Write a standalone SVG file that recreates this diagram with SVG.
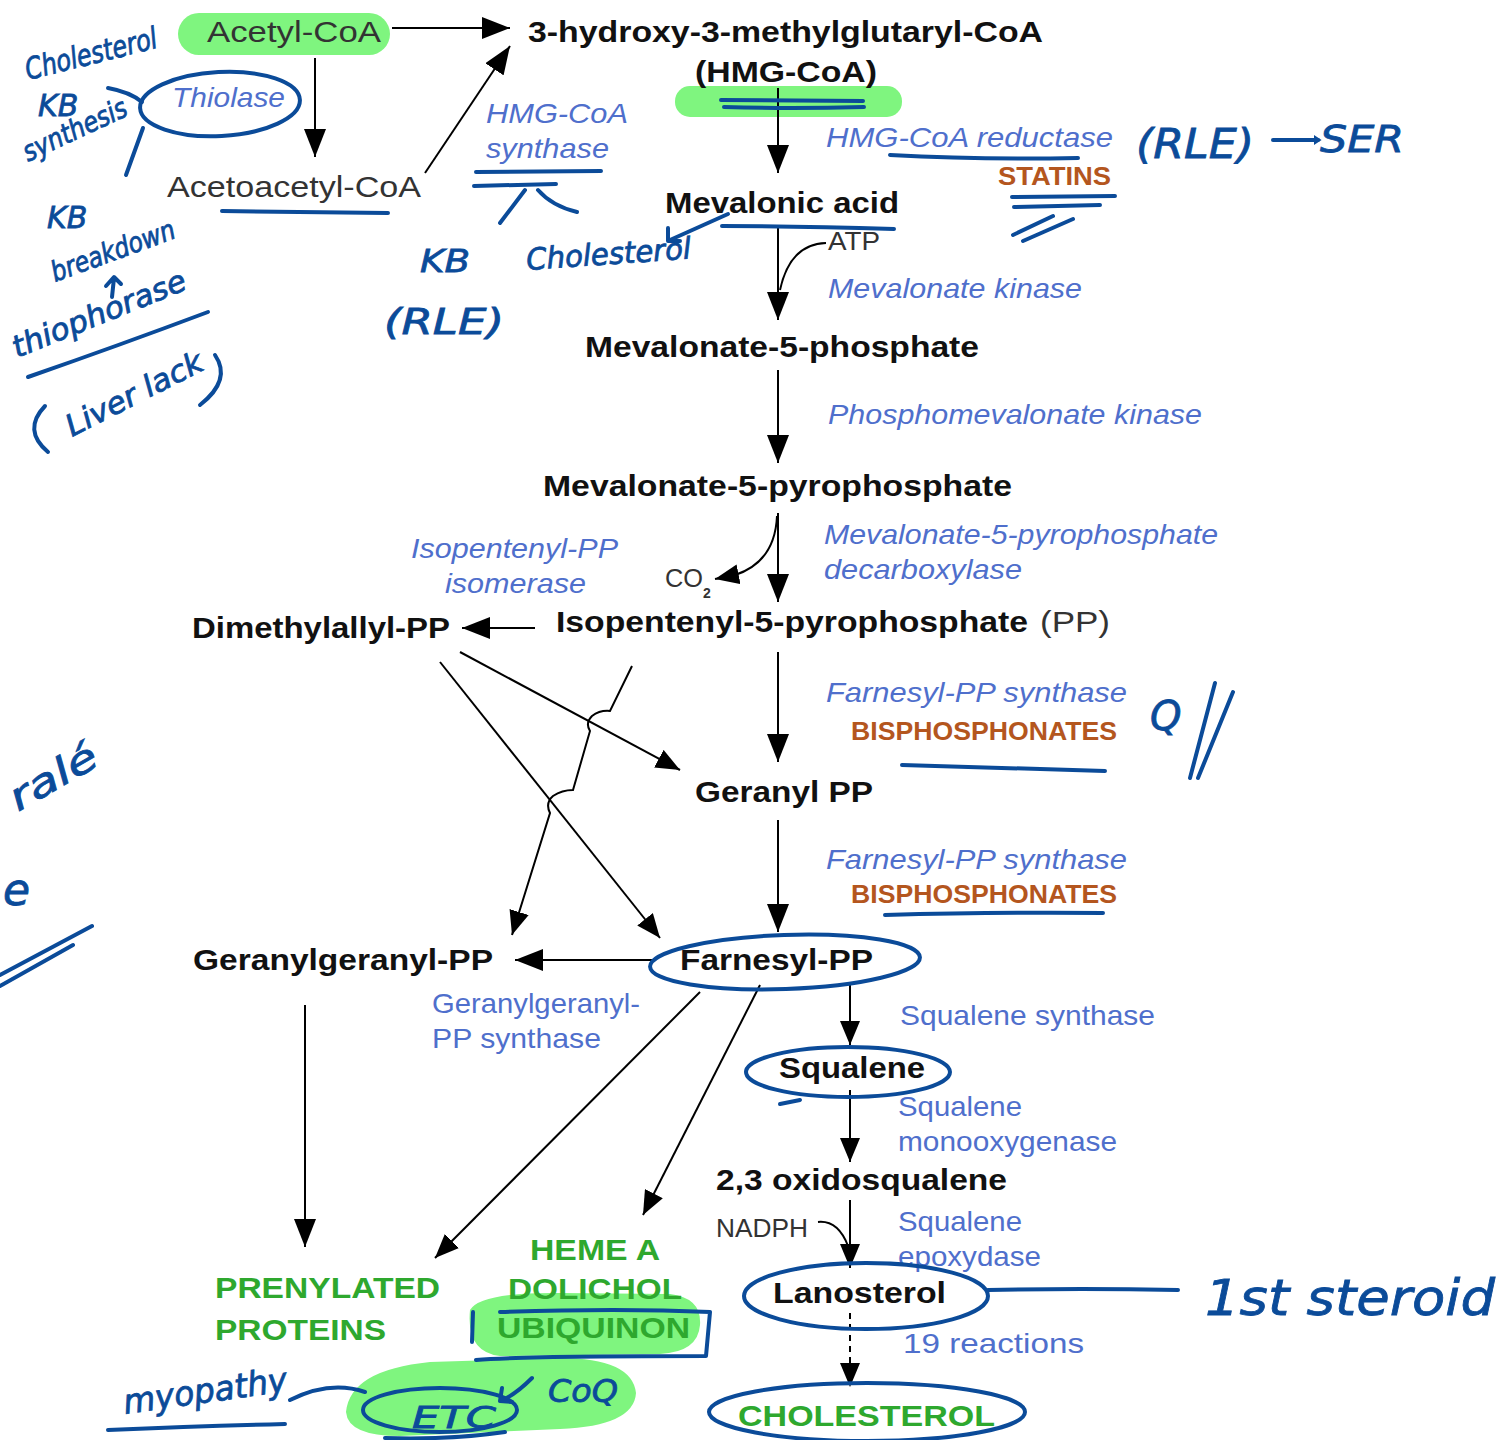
<svg xmlns="http://www.w3.org/2000/svg" width="1511" height="1440" viewBox="0 0 1511 1440">
<defs>
<marker id="ah" markerUnits="userSpaceOnUse" markerWidth="30" markerHeight="22" refX="28" refY="11" orient="auto">
<path d="M0,0 L28,11 L0,22 z" fill="#000"/>
</marker>
<marker id="ahs" markerUnits="userSpaceOnUse" markerWidth="26" markerHeight="20" refX="24" refY="10" orient="auto">
<path d="M0,0 L24,10 L0,20 z" fill="#000"/>
</marker>
<marker id="hah" markerUnits="userSpaceOnUse" markerWidth="20" markerHeight="20" refX="4" refY="10" orient="auto">
<path d="M-8,2 L4,10 L-8,18" fill="none" stroke="#0b4b99" stroke-width="4" stroke-linecap="round"/>
</marker>
<style>
text{font-family:"Liberation Sans",Arial,sans-serif}
.b{font-weight:bold;font-size:30px;fill:#111}
.r{font-size:30px;fill:#333}
.s{font-size:25px;fill:#333}
.bi{font-style:italic;font-size:28px;fill:#4f6fcc}
.bl{font-size:28px;fill:#4f6fcc}
.or{font-weight:bold;font-size:26px;fill:#b4561e}
.gr{font-weight:bold;font-size:30px;fill:#2ea82e}
.hw{font-family:"DejaVu Sans",sans-serif;font-style:italic;fill:#0b4b99;stroke:#0b4b99;stroke-width:0.8}
.hl{fill:#7ff57f}
.ln{stroke:#000;stroke-width:2;fill:none}
.pen{stroke:#0b4b99;stroke-width:4;fill:none;stroke-linecap:round;stroke-linejoin:round}
</style>
</defs>
<rect width="1511" height="1440" fill="#fff"/>

<g id="highlights">
<rect class="hl" x="178" y="13" width="212" height="42" rx="21"/>
<rect class="hl" x="675" y="86" width="227" height="31" rx="15"/>
<path class="hl" d="M470,1310 Q480,1292 560,1293 L670,1294 Q702,1298 700,1325 Q698,1352 660,1354 L500,1356 Q466,1352 470,1310 z"/>
<path class="hl" d="M346,1412 Q350,1370 430,1362 L560,1358 Q632,1358 636,1393 Q634,1426 560,1429 L400,1436 Q348,1436 346,1412 z"/>
</g>

<g id="connectors">
<line class="ln" x1="392" y1="28" x2="510" y2="28" marker-end="url(#ah)"/>
<line class="ln" x1="315" y1="58" x2="315" y2="157" marker-end="url(#ah)"/>
<line class="ln" x1="425" y1="173" x2="510" y2="46" marker-end="url(#ah)"/>
<line class="ln" x1="778" y1="88" x2="778" y2="173" marker-end="url(#ah)"/>
<line class="ln" x1="778" y1="226" x2="778" y2="320" marker-end="url(#ah)"/>
<path class="ln" d="M826,243 Q790,244 780,290"/>
<line class="ln" x1="778" y1="370" x2="778" y2="463" marker-end="url(#ah)"/>
<line class="ln" x1="778" y1="513" x2="778" y2="602" marker-end="url(#ah)"/>
<path class="ln" d="M777,516 Q775,562 735,575 L715,579" marker-end="url(#ahs)"/>
<line class="ln" x1="535" y1="628" x2="462" y2="628" marker-end="url(#ah)"/>
<line class="ln" x1="778" y1="652" x2="778" y2="762" marker-end="url(#ah)"/>
<line class="ln" x1="778" y1="820" x2="778" y2="932" marker-end="url(#ah)"/>
<line class="ln" x1="460" y1="652" x2="680" y2="770" marker-end="url(#ahs)"/>
<line class="ln" x1="440" y1="662" x2="660" y2="938" marker-end="url(#ahs)"/>
<path class="ln" d="M632,666 L610,711 Q600,710 592,716 Q585,723 590,731 L573,790 Q562,790 553,796 Q545,803 550,813 L512,935" marker-end="url(#ahs)"/>
<line class="ln" x1="652" y1="960" x2="515" y2="960" marker-end="url(#ah)"/>
<line class="ln" x1="305" y1="1005" x2="305" y2="1247" marker-end="url(#ah)"/>
<line class="ln" x1="700" y1="992" x2="435" y2="1258" marker-end="url(#ahs)"/>
<line class="ln" x1="760" y1="985" x2="643" y2="1215" marker-end="url(#ahs)"/>
<line class="ln" x1="850" y1="985" x2="850" y2="1045" marker-end="url(#ahs)"/>
<line class="ln" x1="850" y1="1090" x2="850" y2="1162" marker-end="url(#ahs)"/>
<line class="ln" x1="850" y1="1200" x2="850" y2="1268" marker-end="url(#ahs)"/>
<path class="ln" d="M818,1222 Q838,1220 848,1246"/>
<line class="ln" x1="850" y1="1313" x2="850" y2="1387" stroke-dasharray="6,5" marker-end="url(#ahs)"/>
</g>

<g id="n-acetylcoa"><text class="r" x="207" y="42" textLength="174" lengthAdjust="spacingAndGlyphs">Acetyl-CoA</text></g>
<g id="n-hmgcoa">
<text class="b" x="528" y="42" textLength="515" lengthAdjust="spacingAndGlyphs">3-hydroxy-3-methylglutaryl-CoA</text>
<text class="b" x="695" y="82" textLength="182" lengthAdjust="spacingAndGlyphs">(HMG-CoA)</text>
</g>
<g id="e-thiolase"><text class="bi" x="172" y="107" textLength="113" lengthAdjust="spacingAndGlyphs">Thiolase</text></g>
<g id="n-acetoacetyl"><text class="r" x="167" y="197" textLength="254" lengthAdjust="spacingAndGlyphs">Acetoacetyl-CoA</text></g>
<g id="e-hmgsynthase">
<text class="bi" x="486" y="123" textLength="142" lengthAdjust="spacingAndGlyphs">HMG-CoA</text>
<text class="bi" x="486" y="158" textLength="123" lengthAdjust="spacingAndGlyphs">synthase</text>
</g>
<g id="e-hmgreductase">
<text class="bi" x="826" y="147" textLength="287" lengthAdjust="spacingAndGlyphs">HMG-CoA reductase</text>
<text class="or" x="998" y="185" textLength="113" lengthAdjust="spacingAndGlyphs">STATINS</text>
</g>
<g id="n-mevalonic"><text class="b" x="665" y="213" textLength="234" lengthAdjust="spacingAndGlyphs">Mevalonic acid</text></g>
<g id="c-atp"><text class="s" x="828" y="250" textLength="52" lengthAdjust="spacingAndGlyphs">ATP</text></g>
<g id="e-mevkinase"><text class="bi" x="828" y="298" textLength="254" lengthAdjust="spacingAndGlyphs">Mevalonate kinase</text></g>
<g id="n-mev5p"><text class="b" x="585" y="357" textLength="394" lengthAdjust="spacingAndGlyphs">Mevalonate-5-phosphate</text></g>
<g id="e-phosphomev"><text class="bi" x="828" y="424" textLength="374" lengthAdjust="spacingAndGlyphs">Phosphomevalonate kinase</text></g>
<g id="n-mev5pp"><text class="b" x="543" y="496" textLength="469" lengthAdjust="spacingAndGlyphs">Mevalonate-5-pyrophosphate</text></g>
<g id="e-decarb">
<text class="bi" x="824" y="544" textLength="394" lengthAdjust="spacingAndGlyphs">Mevalonate-5-pyrophosphate</text>
<text class="bi" x="824" y="579" textLength="198" lengthAdjust="spacingAndGlyphs">decarboxylase</text>
</g>
<g id="e-isomerase">
<text class="bi" x="411" y="558" textLength="207" lengthAdjust="spacingAndGlyphs">Isopentenyl-PP</text>
<text class="bi" x="445" y="593" textLength="141" lengthAdjust="spacingAndGlyphs">isomerase</text>
</g>
<g id="c-co2"><text class="s" x="665" y="587" textLength="38" lengthAdjust="spacingAndGlyphs">CO</text><text class="s" x="703" y="598" style="font-size:14px;font-weight:bold">2</text></g>
<g id="n-ipp">
<text class="b" x="556" y="632" textLength="472" lengthAdjust="spacingAndGlyphs">Isopentenyl-5-pyrophosphate</text>
<text class="r" x="1040" y="632" textLength="70" lengthAdjust="spacingAndGlyphs">(PP)</text>
</g>
<g id="n-dmapp"><text class="b" x="192" y="638" textLength="258" lengthAdjust="spacingAndGlyphs">Dimethylallyl-PP</text></g>
<g id="e-fpps1">
<text class="bi" x="826" y="702" textLength="301" lengthAdjust="spacingAndGlyphs">Farnesyl-PP synthase</text>
<text class="or" x="851" y="740" textLength="266" lengthAdjust="spacingAndGlyphs">BISPHOSPHONATES</text>
</g>
<g id="n-geranyl"><text class="b" x="695" y="802" textLength="178" lengthAdjust="spacingAndGlyphs">Geranyl PP</text></g>
<g id="e-fpps2">
<text class="bi" x="826" y="869" textLength="301" lengthAdjust="spacingAndGlyphs">Farnesyl-PP synthase</text>
<text class="or" x="851" y="903" textLength="266" lengthAdjust="spacingAndGlyphs">BISPHOSPHONATES</text>
</g>
<g id="n-ggpp"><text class="b" x="193" y="970" textLength="300" lengthAdjust="spacingAndGlyphs">Geranylgeranyl-PP</text></g>
<g id="n-fpp"><text class="b" x="680" y="970" textLength="193" lengthAdjust="spacingAndGlyphs">Farnesyl-PP</text></g>
<g id="e-ggpps">
<text class="bl" x="432" y="1013" textLength="208" lengthAdjust="spacingAndGlyphs">Geranylgeranyl-</text>
<text class="bl" x="432" y="1048" textLength="169" lengthAdjust="spacingAndGlyphs">PP synthase</text>
</g>
<g id="e-sqsynth"><text class="bl" x="900" y="1025" textLength="255" lengthAdjust="spacingAndGlyphs">Squalene synthase</text></g>
<g id="n-squalene"><text class="b" x="779" y="1078" textLength="146" lengthAdjust="spacingAndGlyphs">Squalene</text></g>
<g id="e-sqmono">
<text class="bl" x="898" y="1116" textLength="124" lengthAdjust="spacingAndGlyphs">Squalene</text>
<text class="bl" x="898" y="1151" textLength="219" lengthAdjust="spacingAndGlyphs">monooxygenase</text>
</g>
<g id="n-oxido"><text class="b" x="716" y="1190" textLength="291" lengthAdjust="spacingAndGlyphs">2,3 oxidosqualene</text></g>
<g id="c-nadph"><text class="s" x="716" y="1237" textLength="92" lengthAdjust="spacingAndGlyphs">NADPH</text></g>
<g id="e-sqepox">
<text class="bl" x="898" y="1231" textLength="124" lengthAdjust="spacingAndGlyphs">Squalene</text>
<text class="bl" x="898" y="1266" textLength="143" lengthAdjust="spacingAndGlyphs">epoxydase</text>
</g>
<g id="n-lanosterol"><text class="b" x="773" y="1303" textLength="173" lengthAdjust="spacingAndGlyphs">Lanosterol</text></g>
<g id="e-19"><text class="bl" x="903" y="1353" textLength="181" lengthAdjust="spacingAndGlyphs">19 reactions</text></g>
<g id="n-cholesterol"><text class="gr" x="738" y="1426" textLength="257" lengthAdjust="spacingAndGlyphs">CHOLESTEROL</text></g>
<g id="n-prenylated">
<text class="gr" x="215" y="1298" textLength="225" lengthAdjust="spacingAndGlyphs">PRENYLATED</text>
<text class="gr" x="215" y="1340" textLength="171" lengthAdjust="spacingAndGlyphs">PROTEINS</text>
</g>
<g id="n-heme">
<text class="gr" x="530" y="1260" textLength="130" lengthAdjust="spacingAndGlyphs">HEME A</text>
<text class="gr" x="508" y="1299" textLength="174" lengthAdjust="spacingAndGlyphs">DOLICHOL</text>
<text class="gr" x="497" y="1338" textLength="193" lengthAdjust="spacingAndGlyphs">UBIQUINON</text>
</g>

<g id="annotations">
<text class="hw" font-size="30" transform="rotate(-14 28 80)" x="28" y="80" textLength="135" lengthAdjust="spacingAndGlyphs">Cholesterol</text>
<text class="hw" font-size="30" x="38" y="116">KB</text>
<text class="hw" font-size="28" transform="rotate(-25 28 162)" x="28" y="162" textLength="112" lengthAdjust="spacingAndGlyphs">synthesis</text>
<path class="pen" d="M108,88 Q130,92 142,102 M143,128 L126,175"/>
<ellipse class="pen" cx="220" cy="104" rx="80" ry="32" transform="rotate(-3 220 104)"/>
<path class="pen" d="M222,211 Q300,212 388,213"/>
<text class="hw" font-size="30" x="47" y="228">KB</text>
<text class="hw" font-size="28" transform="rotate(-20 55 282)" x="55" y="282" textLength="130" lengthAdjust="spacingAndGlyphs">breakdown</text>
<path class="pen" d="M112,297 L114,278 M106,286 L114,277 L121,284"/>
<text class="hw" font-size="30" transform="rotate(-22 17 358)" x="17" y="358" textLength="185" lengthAdjust="spacingAndGlyphs">thiophorase</text>
<path class="pen" d="M28,377 Q120,345 208,312"/>
<path class="pen" d="M45,406 Q22,430 48,452 M200,405 Q232,380 215,355"/>
<text class="hw" font-size="30" transform="rotate(-27 72 437)" x="72" y="437" textLength="150" lengthAdjust="spacingAndGlyphs">Liver lack</text>
<path class="pen" d="M476,172 L601,171 M474,186 L556,184 M500,223 L525,190 M538,190 Q552,206 577,212"/>
<text class="hw" font-size="32" x="420" y="272" textLength="50" lengthAdjust="spacingAndGlyphs">KB</text>
<text class="hw" font-size="36" x="384" y="334" textLength="120" lengthAdjust="spacingAndGlyphs">(RLE)</text>
<text class="hw" font-size="30" transform="rotate(-4 527 270)" x="527" y="270" textLength="165" lengthAdjust="spacingAndGlyphs">Cholesterol</text>
<path class="pen" d="M728,214 L670,240 M668,228 L668,241 L680,241"/>
<path class="pen" d="M721,100 L863,101 M724,107 Q790,109 864,107"/>
<path class="pen" d="M722,226 Q800,226 894,229"/>
<path class="pen" d="M890,155 Q980,160 1078,158"/>
<path class="pen" d="M1012,197 L1115,196 M1014,207 L1100,205 M1013,235 L1053,216 M1023,241 L1073,219"/>
<text class="hw" font-size="40" x="1136" y="158" textLength="118" lengthAdjust="spacingAndGlyphs">(RLE)</text>
<line class="pen" x1="1273" y1="140" x2="1318" y2="140" marker-end="url(#hah)"/>
<text class="hw" font-size="38" x="1320" y="152" textLength="84" lengthAdjust="spacingAndGlyphs">SER</text>
<path class="pen" d="M902,765 Q1000,768 1105,771"/>
<text class="hw" font-size="40" x="1150" y="730">Q</text>
<path class="pen" d="M1190,778 L1215,683 M1198,778 L1233,692"/>
<path class="pen" d="M885,915 Q1000,912 1103,913"/>
<text class="hw" font-size="38" transform="rotate(-30 18 812)" x="18" y="812" textLength="96" lengthAdjust="spacingAndGlyphs">ralé</text>
<text class="hw" font-size="44" x="3" y="905">e</text>
<path class="pen" d="M0,975 L92,926 M0,986 L73,945"/>
<ellipse class="pen" cx="785" cy="962" rx="135" ry="27" transform="rotate(-2 785 962)"/>
<ellipse class="pen" cx="848" cy="1072" rx="102" ry="25"/>
<path class="pen" d="M780,1104 L800,1100"/>
<ellipse class="pen" cx="866" cy="1296" rx="122" ry="33"/>
<path class="pen" d="M988,1290 Q1080,1288 1178,1290"/>
<text class="hw" font-size="50" x="1205" y="1315" textLength="290" lengthAdjust="spacingAndGlyphs">1st steroid</text>
<ellipse class="pen" cx="867" cy="1412" rx="158" ry="29"/>
<path class="pen" d="M473,1312 L472,1342 M476,1360 Q520,1356 706,1356 L710,1312 Q620,1308 500,1312"/>
<ellipse class="pen" cx="440" cy="1410" rx="77" ry="22"/>
<text class="hw" font-size="30" x="412" y="1428" textLength="84" lengthAdjust="spacingAndGlyphs">ETC</text>
<path class="pen" d="M385,1438 Q450,1440 505,1432"/>
<text class="hw" font-size="32" x="548" y="1402" textLength="70" lengthAdjust="spacingAndGlyphs">CoQ</text>
<path class="pen" d="M532,1378 Q515,1395 502,1400 M502,1388 L500,1401 L512,1402"/>
<text class="hw" font-size="34" transform="rotate(-8 125 1414)" x="125" y="1414" textLength="165" lengthAdjust="spacingAndGlyphs">myopathy</text>
<path class="pen" d="M108,1430 Q200,1426 285,1424 M290,1400 Q330,1380 365,1392"/>
</g>
</svg>
